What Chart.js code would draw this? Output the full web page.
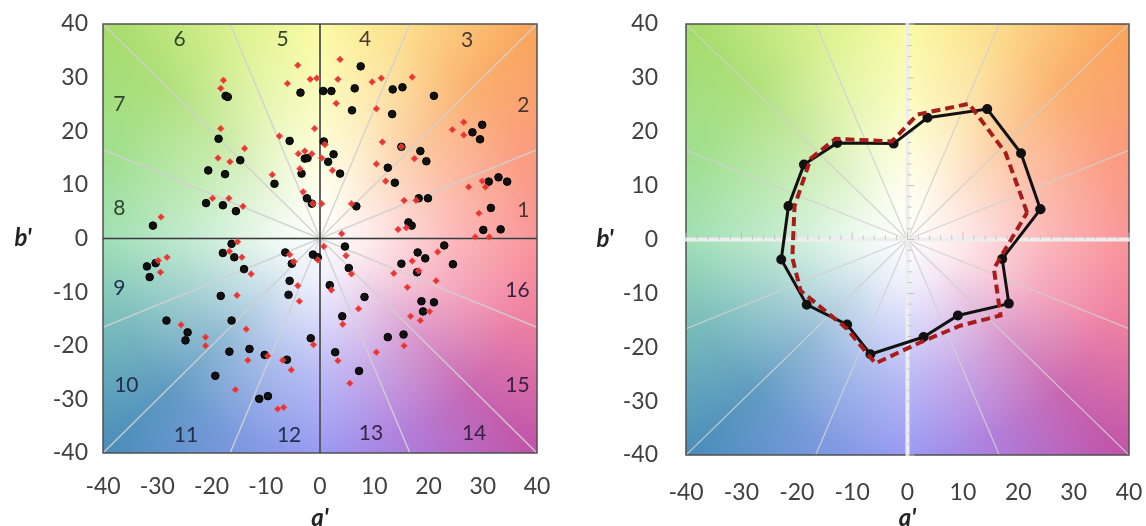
<!DOCTYPE html>
<html>
<head>
<meta charset="utf-8">
<script src="https://cdn.jsdelivr.net/npm/chart.js@4.4.0/dist/chart.umd.min.js"></script>
<style>
  html, body { margin: 0; padding: 0; background: #fff; overflow: hidden; }
  #wrapLeft { position: absolute; left: 0; top: 0; width: 560px; height: 545px; }
  #wrapRight { position: absolute; left: 580px; top: 0; width: 566px; height: 545px; }
</style>
</head>
<body>
<div id="wrapLeft"><canvas id="leftChart" width="560" height="545"></canvas></div>
<div id="wrapRight"><canvas id="rightChart" width="566" height="545"></canvas></div>
<script>
// axis ticks (a', b')
const axisTicks = [-40, -30, -20, -10, 0, 10, 20, 30, 40];

// hue sector numbers and where they are written (left panel)
const sectorNumbers = [1, 2, 3, 4, 5, 6, 7, 8, 9, 10, 11, 12, 13, 14, 15, 16];
const sectorLabelA = [37.5, 37.5, 27.1, 8.3, -6.9, -25.9, -37, -37, -37, -35.7, -24.7, -5.7, 9.4, 28.4, 36.4, 36.4];
const sectorLabelB = [5.3, 24.8, 36.9, 37.2, 37.2, 37.2, 25.1, 5.6, -9.3, -27.3, -36.6, -36.6, -36.3, -36.3, -27.3, -9.6];

// left panel: individual samples, black set
const blackA = [-17.4, -17, -18.7, -14.7, -20.6, -17.5, -8.4, -5.6, -3.6, -2.8, -2.3, -3.4, -21, -17.9, -15.5, -30.8, -2.4, -1.5,
  7.5, 0.6, 2.1, 6.4, 13.4, 15.2, 21, 5.9, 13.3, 29.9, 28.1, 29.5, 0.7, 2.5, 1.5, 3.7, 15, 18.5, 19.6, 12.5, 13.8, 6.7, 19.9, 18.2, 31.1, 32.9, 34.5, 31.5, 30.1, 33.3, 16.3, 16.9,
  -16.3, -17.9, -15.8, -14, -31.9, -30.3, -31.4, -18.3, -28.3, -16.3, -24.4, -24.8, -16.7, -13, -10.2, -6.1, -19.3, -11.2, -9.6, -6.4, -5.2, -5.6, -5.8, -1.7, -1.3, -0.4,
  4.6, 5.3, 1.8, 8.2, 4.1, 2.8, 7.2, 12.5, 15.4, 15, 18, 19.4, 17.9, 22.9, 24.5, 18.7, 21, 19];
const blackB = [26.6, 26.4, 18.6, 14.6, 12.7, 12, 10.2, 18.2, 27.2, 14.9, 15, 12.1, 6.6, 6.2, 5.1, 2.4, 7.5, 6.5,
  32.1, 27.5, 27.5, 28, 27.8, 28.2, 26.6, 23.9, 23.2, 21.2, 19.8, 18.5, 18.1, 15.7, 14.3, 12.1, 17.1, 16.3, 14.4, 13.2, 10.4, 6, 7.5, 7.5, 10.6, 11.4, 10.6, 5.7, 1.6, 1.7, 3, 2.4,
  -1, -2.7, -3.5, -5.7, -5.2, -4.6, -7.2, -10.7, -15.3, -15.3, -17.5, -19, -21.1, -20.6, -21.7, -22.6, -25.6, -29.9, -29.4, -2.6, -4.7, -7.9, -10.5, -18.6, -3, -3.5,
  -1.5, -5.5, -8.7, -10.9, -14.5, -21.2, -24.7, -18.4, -17.9, -4.7, -2.6, -3.7, -6.3, -1.3, -4.8, -11.7, -11.9, -13.6];

// left panel: individual samples, red set
const redA = [-17.8, -18.3, -18.3, -13.9, -18.8, -16.6, -8.8, -7.5, -4.1, -6, -1.8, -0.6, -1, -4, -2.8, -1.5, -3.7, -3.1, -1.3, -19.8, -16.8, -14.2, -29.3,
  3.7, 3.3, 3, 9.6, 11.3, 17, 10.4, 11.5, 15, 10.4, 12.1, 17.4, 2.3, 0.9, 0.3, 5.8, 15.5, 17.7, 14.4, 15.9, 26.5, 24.4, 26.5, 29.9, 30.5, 27.4, 29.3, 28.6, 31.2, 4, 0.3,
  -15.2, -16.7, -14.4, -12.7, -28.2, -29.8, -29.4, -15.3, -13.6, -25.6, -21.1, -21.1, -13.3, -9.6, -6.9, -5.3, -15.6, -7.8, -6.7, -5.6, -4.8, -4.1, -3.8, -1.2, -0.4,
  0.7, 4.8, 5.8, 2.1, 7.1, 4.2, 3.3, 5.5, 10.4, 13.6, 17, 18.2, 16.1, 21.7, 21.4, 20.2, 16.7, 18.5, 15.5];
const redB = [29.5, 28, 20.5, 16.8, 15, 14.3, 11.9, 19.1, 32.3, 28.9, 29.7, 29.9, 20.5, 15.8, 16.3, 15.8, 13, 8.7, 6.5, 7.5, 7.5, 6, 4,
  33.4, 29.7, 25.2, 29.2, 29.9, 30.1, 24.2, 18, 17.1, 13.9, 10.7, 14.9, 12.7, 17.5, 15, 6.5, 7.1, 7.1, 1.7, 2, 21.7, 20.3, 19.3, 10.7, 9.6, 9.6, 4.7, 0.3, 0.3, 0.9, 6.5,
  -0.6, -2.4, -3.5, -6.6, -3.5, -4.1, -6.3, -10.6, -16.9, -16.1, -18.4, -20, -22.7, -21.9, -22.7, -24.5, -28.2, -31.8, -31.5, -3, -4.3, -8.8, -11.7, -19.8, -4,
  -1.5, -3.2, -6.6, -9.6, -13.1, -16, -22.8, -27, -21.2, -6.5, -4.2, -6, -9.1, -2.5, -7.9, -13.6, -14.5, -15.3, -20];

// right panel: one mean point per hue sector (1..16)
const meanBlackA = [24, 20.5, 14.4, 3.6, -2.5, -12.7, -18.7, -21.5, -22.8, -18.2, -10.9, -6.7, 2.9, 9.1, 18.3, 17.1];
const meanBlackB = [5.6, 16, 24.2, 22.6, 17.8, 17.9, 13.9, 6.2, -3.7, -12.1, -15.8, -21.3, -18.1, -14.1, -11.9, -3.6];
const meanRedA = [21.6, 17.7, 11.1, 1.8, -2.8, -13, -17.5, -20.4, -20.8, -19.3, -11, -5.8, 2.3, 9.5, 16.8, 15.6];
const meanRedB = [5, 16.1, 25.2, 23.2, 18.2, 18.7, 15, 6.2, -3.4, -9.5, -16.5, -23, -19.1, -16, -14.1, -5.4];

// colour plane stops, clockwise on screen starting at +a'
const hueStops = [
  [0.0, 'rgb(250,135,140)'], [0.0625, 'rgb(236,112,152)'], [0.125, 'rgb(192,82,168)'],
  [0.1875, 'rgb(165,110,215)'], [0.25, 'rgb(140,140,242)'], [0.3125, 'rgb(108,140,220)'],
  [0.375, 'rgb(72,140,185)'], [0.4375, 'rgb(105,180,180)'], [0.5, 'rgb(148,220,172)'],
  [0.5625, 'rgb(150,220,130)'], [0.625, 'rgb(165,220,105)'], [0.6875, 'rgb(215,240,130)'],
  [0.75, 'rgb(250,250,150)'], [0.8125, 'rgb(252,218,128)'], [0.875, 'rgb(250,165,90)'],
  [0.9375, 'rgb(250,145,112)'], [1.0, 'rgb(250,135,140)']
];

const tickFont = { family: 'Lato', size: 23 };
const tickColor = '#404040';

function toPoints(xs, ys) {
  return xs.map((v, i) => ({ x: v, y: ys[i] }));
}

function closeRing(pts) {
  return pts.concat([pts[0]]);
}

// draws the hue plane, radial sector lines, axes and labels
function colorPlane(opts) {
  return {
    id: 'colorPlane',
    beforeDraw(chart) {
      const { ctx, chartArea: ca, scales: { x, y } } = chart;
      const cx = x.getPixelForValue(0), cy = y.getPixelForValue(0);
      ctx.save();
      ctx.beginPath();
      ctx.rect(ca.left, ca.top, ca.width, ca.height);
      ctx.clip();
      const hue = ctx.createConicGradient(0, cx, cy);
      hueStops.forEach(s => hue.addColorStop(s[0], s[1]));
      ctx.fillStyle = hue;
      ctx.fillRect(ca.left, ca.top, ca.width, ca.height);
      const R = Math.hypot(ca.width, ca.height) / 2;
      const white = ctx.createRadialGradient(cx, cy, 0, cx, cy, R);
      white.addColorStop(0, 'rgba(255,255,255,1)');
      white.addColorStop(0.15, 'rgba(255,255,255,0.85)');
      white.addColorStop(0.45, 'rgba(255,255,255,0.4)');
      white.addColorStop(0.7, 'rgba(255,255,255,0.12)');
      white.addColorStop(1, 'rgba(255,255,255,0)');
      ctx.fillStyle = white;
      ctx.fillRect(ca.left, ca.top, ca.width, ca.height);

      // sector boundaries every 22.5 degrees
      ctx.strokeStyle = 'rgba(208,208,208,0.9)';
      ctx.lineWidth = opts.rayWidth;
      ctx.beginPath();
      for (let k = 0; k < 16; k++) {
        const t = k * Math.PI / 8;
        const c = Math.cos(t), s = Math.sin(t);
        const r = 40 / Math.max(Math.abs(c), Math.abs(s));
        ctx.moveTo(cx, cy);
        ctx.lineTo(x.getPixelForValue(r * c), y.getPixelForValue(r * s));
      }
      ctx.stroke();
      ctx.restore();
    },
    beforeDatasetsDraw(chart) {
      const { ctx, chartArea: ca, scales: { x, y } } = chart;
      const cx = x.getPixelForValue(0), cy = y.getPixelForValue(0);
      ctx.save();
      // frame
      ctx.strokeStyle = '#505050';
      ctx.lineWidth = 1.5;
      ctx.strokeRect(ca.left, ca.top, ca.width, ca.height);

      if (opts.darkAxes) {
        ctx.strokeStyle = '#3a3a3a';
        ctx.lineWidth = 1.5;
        ctx.beginPath();
        ctx.moveTo(ca.left, cy); ctx.lineTo(ca.right, cy);
        ctx.moveTo(cx, ca.top); ctx.lineTo(cx, ca.bottom);
        ctx.stroke();
      } else {
        // light axes with minor ticks
        ctx.strokeStyle = 'rgba(238,238,238,0.95)';
        ctx.lineWidth = 4;
        ctx.beginPath();
        ctx.moveTo(ca.left - 1, cy); ctx.lineTo(ca.right + 1, cy);
        ctx.moveTo(cx, ca.top - 1); ctx.lineTo(cx, ca.bottom + 1);
        ctx.stroke();
        ctx.strokeStyle = 'rgba(190,190,190,0.9)';
        ctx.lineWidth = 1;
        ctx.beginPath();
        for (let v = -40; v <= 40; v += 2) {
          const len = v % 10 === 0 ? 7 : 4;
          const px = x.getPixelForValue(v), py = y.getPixelForValue(v);
          ctx.moveTo(px, cy - len); ctx.lineTo(px, cy);
          ctx.moveTo(cx, py); ctx.lineTo(cx + len, py);
        }
        ctx.stroke();
      }

      if (opts.sectorLabels) {
        ctx.font = '21px Lato';
        ctx.textAlign = 'center';
        ctx.textBaseline = 'middle';
        sectorNumbers.forEach((n, i) => {
          ctx.fillStyle = i < 4 ? '#4a3530' : i < 8 ? '#2c472c' : i < 12 ? '#22304c' : '#3a2242';
          ctx.fillText(String(n), x.getPixelForValue(sectorLabelA[i]), y.getPixelForValue(sectorLabelB[i]));
        });
      }
      ctx.restore();
    },
    afterDraw(chart) {
      const { ctx, scales: { y } } = chart;
      ctx.save();
      ctx.font = 'italic bold 24px Lato';
      ctx.fillStyle = '#222';
      ctx.textAlign = 'center';
      ctx.textBaseline = 'middle';
      ctx.fillText("b'", opts.bTitleX, y.getPixelForValue(0));
      ctx.restore();
    }
  };
}

function planeScales(yWidth, yPad, xHeight, xPad) {
  return {
    x: {
      type: 'linear', min: -40, max: 40,
      afterBuildTicks: s => { s.ticks = axisTicks.map(v => ({ value: v })); },
      afterFit: s => { s.height = xHeight; s.paddingLeft = 0; s.paddingRight = 0; },
      grid: { display: false, drawTicks: false },
      border: { display: false },
      ticks: { font: tickFont, color: tickColor, padding: xPad, maxRotation: 0 },
      title: { display: true, text: "a'", font: { family: 'Lato', size: 24, weight: 'bold', style: 'italic' }, color: '#222', padding: { top: 0, bottom: 12 } }
    },
    y: {
      type: 'linear', min: -40, max: 40,
      afterBuildTicks: s => { s.ticks = axisTicks.map(v => ({ value: v })); },
      afterFit: s => { s.width = yWidth; s.paddingTop = 0; s.paddingBottom = 0; },
      grid: { display: false, drawTicks: false },
      border: { display: false },
      ticks: { font: tickFont, color: tickColor, padding: yPad }
    }
  };
}

const leftChart = new Chart(document.getElementById('leftChart').getContext('2d'), {
  type: 'scatter',
  data: {
    datasets: [{
      label: 'red',
      data: toPoints(redA, redB),
      pointStyle: 'rectRot',
      pointRadius: 3.3,
      backgroundColor: 'rgba(230,45,40,0.95)',
      borderColor: 'rgba(240,90,90,0.8)',
      borderWidth: 1,
      order: 0
    }, {
      label: 'black',
      data: toPoints(blackA, blackB),
      pointStyle: 'circle',
      pointRadius: 3.8,
      backgroundColor: '#111',
      borderColor: '#000',
      borderWidth: 1,
      order: 1
    }]
  },
  options: {
    responsive: false,
    animation: false,
    layout: { padding: { top: 24, right: 23, left: 0, bottom: 0 } },
    plugins: { legend: { display: false }, tooltip: { enabled: false } },
    scales: planeScales(103, 15, 92, 20)
  },
  plugins: [colorPlane({ darkAxes: true, sectorLabels: true, rayWidth: 1.5, bTitleX: 23 })]
});

const rightChart = new Chart(document.getElementById('rightChart').getContext('2d'), {
  type: 'scatter',
  data: {
    datasets: [{
      label: 'red mean',
      data: closeRing(toPoints(meanRedA, meanRedB)),
      showLine: true,
      borderColor: '#a81c1a',
      borderWidth: 4,
      borderDash: [9, 5],
      pointRadius: 0,
      order: 0
    }, {
      label: 'black mean',
      data: closeRing(toPoints(meanBlackA, meanBlackB)),
      showLine: true,
      borderColor: '#111',
      borderWidth: 3,
      pointRadius: 3.5,
      pointBackgroundColor: '#111',
      pointBorderColor: '#111',
      order: 1
    }]
  },
  options: {
    responsive: false,
    animation: false,
    layout: { padding: { top: 24, right: 17, left: 0, bottom: 0 } },
    plugins: { legend: { display: false }, tooltip: { enabled: false } },
    scales: planeScales(106, 28, 90, 24)
  },
  plugins: [colorPlane({ darkAxes: false, sectorLabels: false, rayWidth: 1.2, bTitleX: 25 })]
});
</script>
</body>
</html>
